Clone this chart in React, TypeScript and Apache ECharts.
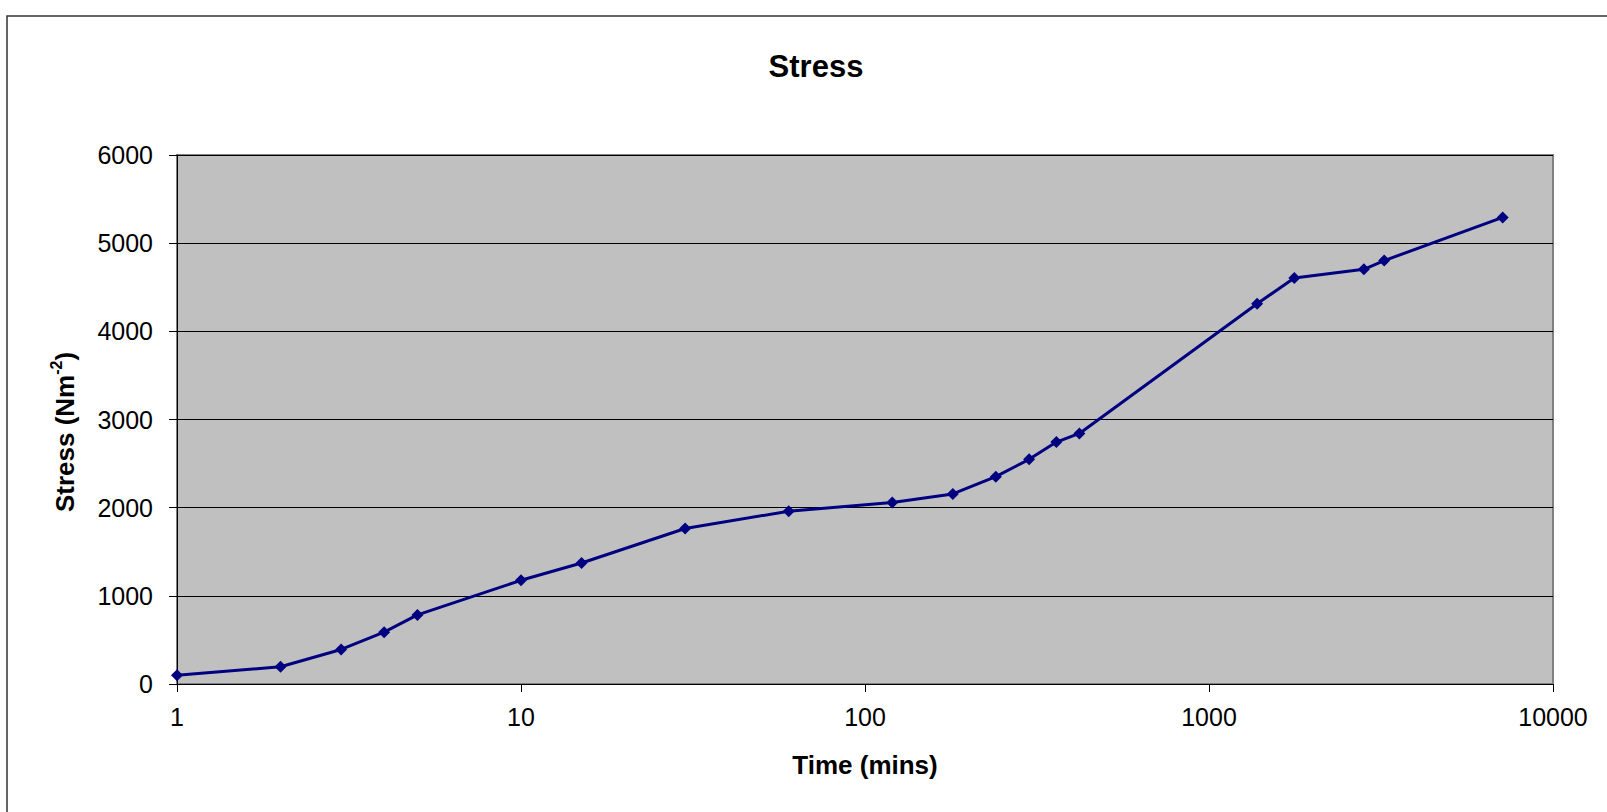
import React, { useEffect, useRef } from "react";
import * as echarts from "echarts";

const chartTitle = "Stress";
const xAxisTitle = "Time (mins)";
const yAxisTitleMain = "Stress (Nm";
const yAxisTitleSup = "-2";

// time in minutes
const timeMins = [1, 2, 3, 4, 5, 10, 15, 30, 60, 120, 180, 240, 300, 360, 420, 1380, 1770, 2820, 3230, 7140];
// stress in N m^-2
const stressValues = [98, 196, 392, 588, 784, 1176, 1372, 1764, 1960, 2058, 2156, 2352, 2548, 2744, 2842, 4312, 4606, 4704, 4802, 5292];

const yMin = 0;
const yMax = 6000;
const yInterval = 1000;
const xMin = 1;
const xMax = 10000;

const FONT = "'Liberation Sans', Arial, Helvetica, sans-serif";

export default function App() {
  const ref = useRef<HTMLDivElement>(null);

  useEffect(() => {
    if (!ref.current) return;
    const chart = echarts.init(ref.current, null, { renderer: "svg" });
    const seriesData = timeMins.map((t, i) => [t, stressValues[i]]);

    chart.setOption({
      animation: false,
      backgroundColor: "#ffffff",
      textStyle: { fontFamily: FONT },
      grid: {
        left: 177,
        top: 155,
        width: 1376,
        height: 529,
        show: true,
        backgroundColor: "#C0C0C0",
        borderColor: "#808080",
        borderWidth: 2,
      },
      xAxis: {
        type: "log",
        logBase: 10,
        min: xMin,
        max: xMax,
        axisLine: { show: true, lineStyle: { color: "#000", width: 1 } },
        axisTick: { show: true, inside: false, length: 8, lineStyle: { color: "#000" } },
        minorTick: { show: false },
        splitLine: { show: false },
        axisLabel: {
          fontSize: 25,
          color: "#000",
          fontFamily: FONT,
          margin: 20,
          formatter: (v: number) => String(Math.round(v)),
        },
      },
      yAxis: {
        type: "value",
        min: yMin,
        max: yMax,
        interval: yInterval,
        axisLine: { show: true, lineStyle: { color: "#000", width: 1 } },
        axisTick: { show: true, inside: false, length: 8, lineStyle: { color: "#000" } },
        splitLine: { show: true, lineStyle: { color: "#000", width: 1 } },
        axisLabel: {
          fontSize: 25,
          color: "#000",
          fontFamily: FONT,
          margin: 24,
          formatter: (v: number) => String(Math.round(v)),
        },
      },
      series: [
        {
          type: "line",
          data: seriesData,
          symbol: "diamond",
          symbolSize: 12,
          showSymbol: true,
          lineStyle: { color: "#000080", width: 3 },
          itemStyle: { color: "#000080" },
          z: 5,
        },
      ],
      graphic: [
        {
          type: "rect",
          shape: { x: 7, y: 16, width: 1640, height: 820 },
          style: { fill: "none", stroke: "#333", lineWidth: 1.5 },
          z: 0,
          silent: true,
        },
        {
          type: "text",
          x: 816,
          y: 66,
          style: {
            text: chartTitle,
            fontFamily: FONT,
            fontSize: 31,
            fontWeight: "bold",
            fill: "#000",
            align: "center",
            verticalAlign: "middle",
          },
        },
        {
          type: "text",
          x: 865,
          y: 765,
          style: {
            text: xAxisTitle,
            fontFamily: FONT,
            fontSize: 26,
            fontWeight: "bold",
            fill: "#000",
            align: "center",
            verticalAlign: "middle",
          },
        },
        {
          type: "text",
          x: 63,
          y: 432,
          rotation: Math.PI / 2,
          style: {
            text: "{a|" + yAxisTitleMain + "}{b|" + yAxisTitleSup + "}{a|)}",
            align: "center",
            verticalAlign: "middle",
            rich: {
              a: { fontFamily: FONT, fontSize: 26, fontWeight: "bold", fill: "#000", lineHeight: 30, verticalAlign: "bottom" },
              b: { fontFamily: FONT, fontSize: 16, fontWeight: "bold", fill: "#000", lineHeight: 30, verticalAlign: "top" },
            },
          },
        },
      ],
    });

    return () => chart.dispose();
  }, []);

  return (
    <div
      ref={ref}
      style={{ position: "absolute", left: 0, top: 0, width: 1607, height: 812 }}
    />
  );
}
